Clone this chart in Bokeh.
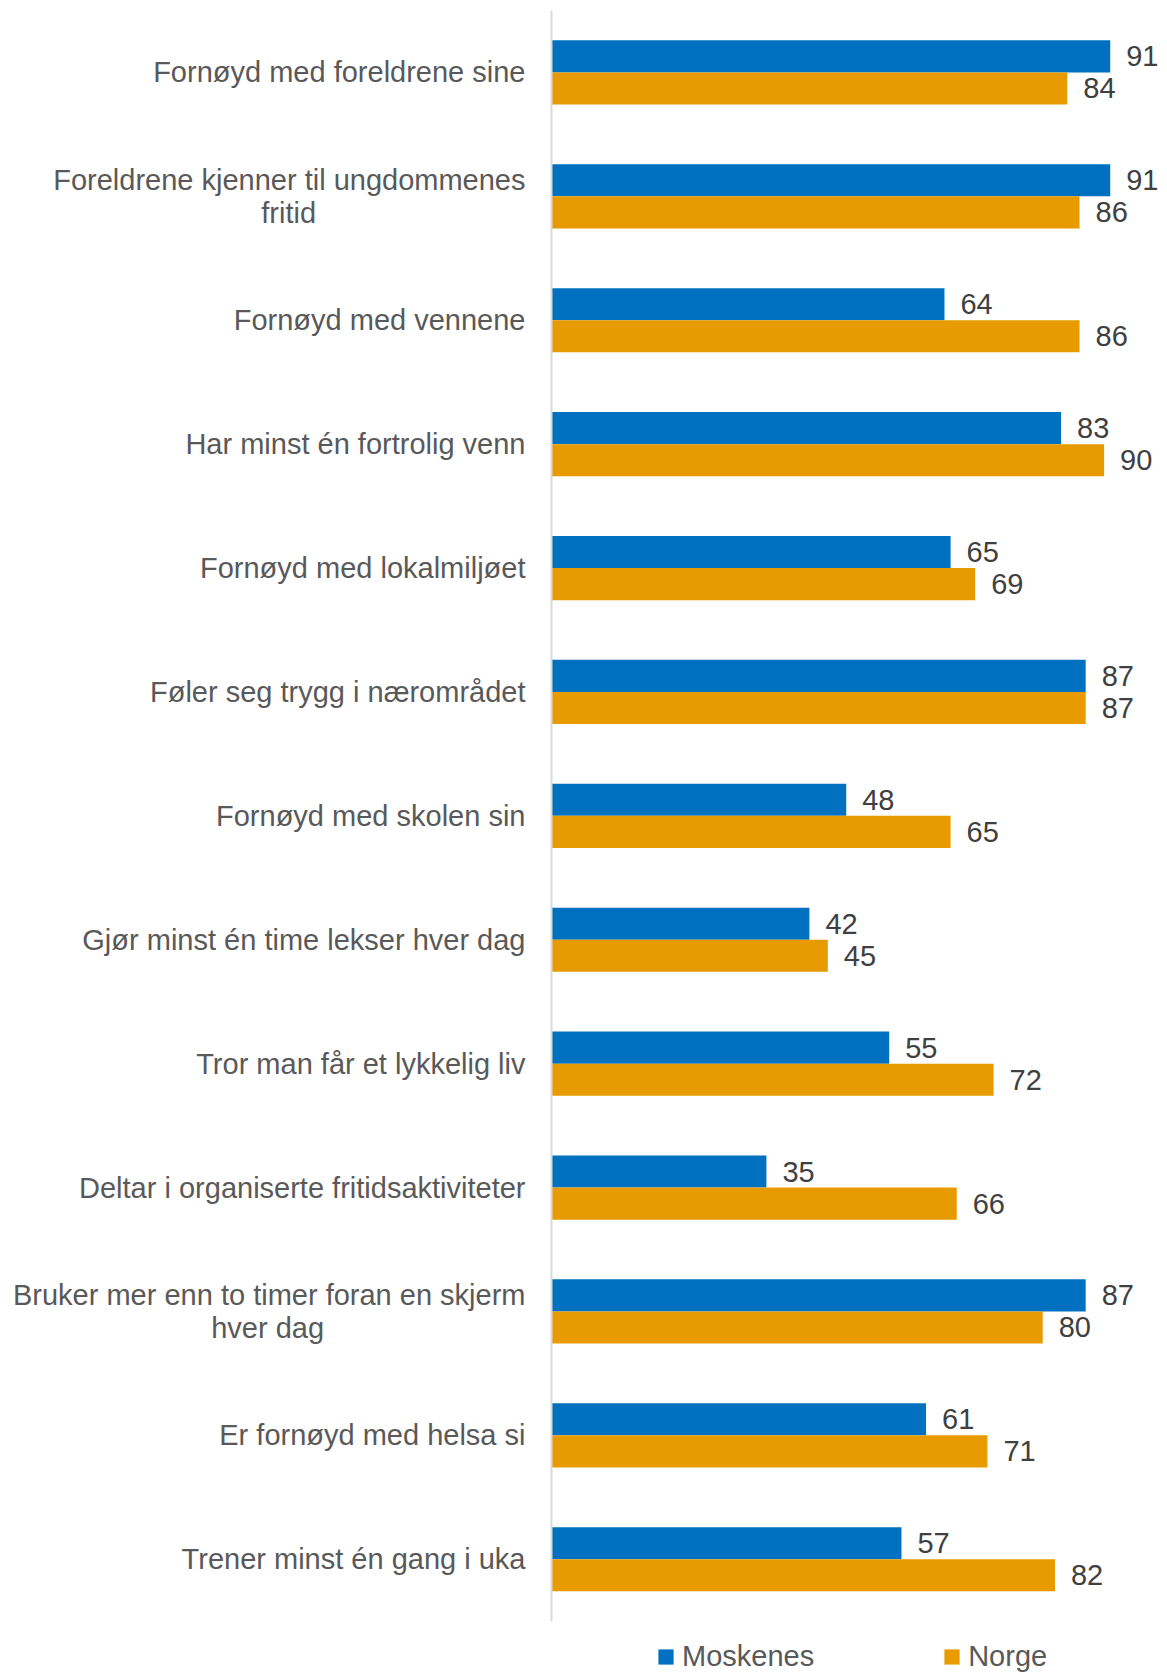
from bokeh.plotting import figure
from bokeh.models import Range1d, Legend, LegendItem, ColumnDataSource, FixedTicker
from bokeh.core.properties import value
from bokeh.embed import file_html
from bokeh.resources import INLINE

NB = "\u00a0"
categories = [
    "Fornøyd med foreldrene sine",
    "Foreldrene kjenner til ungdommenes\nfritid" + NB * 26,
    "Fornøyd med vennene",
    "Har minst én fortrolig venn",
    "Fornøyd med lokalmiljøet",
    "Føler seg trygg i nærområdet",
    "Fornøyd med skolen sin",
    "Gjør minst én time lekser hver dag",
    "Tror man får et lykkelig liv",
    "Deltar i organiserte fritidsaktiviteter",
    "Bruker mer enn to timer foran en skjerm\nhver dag" + NB * 25,
    "Er fornøyd med helsa si",
    "Trener minst én gang i uka",
]
moskenes = [91, 91, 64, 83, 65, 87, 48, 42, 55, 35, 87, 61, 57]
norge = [84, 86, 86, 90, 69, 87, 65, 45, 72, 66, 80, 71, 82]
series_names = ["Moskenes", "Norge"]

BLUE = "#0070C0"
ORANGE = "#E89B00"
FONT = "Liberation Sans"
FS = "29px"

n = len(categories)
pos = [n - 1 - i for i in range(n)]          # first category on top
h = 0.259                                    # bar thickness (category units)

src = ColumnDataSource(dict(
    pos=pos,
    y_m=[v + h / 2 for v in pos],
    y_n=[v - h / 2 for v in pos],
    moskenes=moskenes,
    norge=norge,
    m_lbl=[str(v) for v in moskenes],
    n_lbl=[str(v) for v in norge],
))

W, H = 1167, 1673
LEFT, TOP = 551, 10
PX_PER_CAT = 123.9
frame_h = H - TOP
y_top = n - 0.5
y_bot = y_top - frame_h / PX_PER_CAT

p = figure(
    width=W, height=H,
    y_range=Range1d(y_bot, y_top),
    x_range=Range1d(0, (W - LEFT) / 6.14),
    x_axis_location=None,
    output_backend="svg", toolbar_location=None,
    min_border_left=LEFT, min_border_right=0,
    min_border_top=TOP, min_border_bottom=0,
)
p.outline_line_color = None
p.xgrid.visible = False
p.ygrid.visible = False
p.background_fill_color = "white"
p.border_fill_color = "white"

r1 = p.hbar(y="y_m", left=0, right="moskenes", height=h,
            fill_color=BLUE, line_color=None, source=src)
r2 = p.hbar(y="y_n", left=0, right="norge", height=h,
            fill_color=ORANGE, line_color=None, source=src)

for col, lbl, yc in (("moskenes", "m_lbl", "y_m"), ("norge", "n_lbl", "y_n")):
    p.text(x=col, y=yc, text=lbl, x_offset=16,
           text_align="left", text_baseline="middle",
           text_font=value(FONT), text_font_size=FS, text_color="#404040", source=src)

ax = p.yaxis[0]
ax.ticker = FixedTicker(ticks=pos, minor_ticks=[])
ax.major_label_overrides = {pv: c for pv, c in zip(pos, categories)}
ax.bounds = (-0.5, n - 0.5)
ax.axis_line_color = "#D9D9D9"
ax.axis_line_width = 2
ax.major_tick_line_color = None
ax.minor_tick_line_color = None
ax.major_tick_out = 0
ax.major_tick_in = 0
ax.major_label_standoff = 26
ax.major_label_text_font = FONT
ax.major_label_text_font_size = FS
ax.major_label_text_color = "#595959"
ax.major_label_text_line_height = 1.04

legend = Legend(
    items=[LegendItem(label=series_names[0], renderers=[r1]),
           LegendItem(label=series_names[1], renderers=[r2])],
    location=(105, 0), orientation="horizontal",
    glyph_width=19, glyph_height=19, label_standoff=7, spacing=128,
    padding=0, margin=0, border_line_color=None, background_fill_alpha=0,
    label_text_font=FONT, label_text_font_size=FS, label_text_color="#595959",
)
p.add_layout(legend, "center")

open("out.html", "w").write(file_html(p, INLINE))
